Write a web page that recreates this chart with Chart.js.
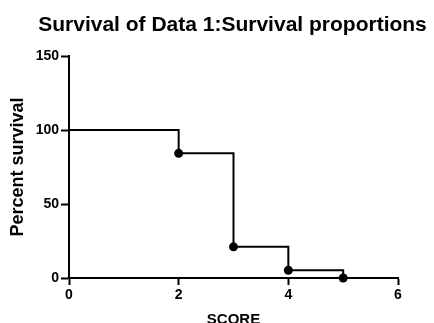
<!DOCTYPE html>
<html>
<head>
<meta charset="utf-8">
<script src="https://cdn.jsdelivr.net/npm/chart.js@4"></script>
<style>
  html, body { margin: 0; padding: 0; background: #fff; }
  #wrap { width: 434px; height: 323px; }
</style>
</head>
<body>
<div id="wrap"><canvas id="survChart" width="434" height="323"></canvas></div>
<script>
'use strict';

// Kaplan-Meier steps
const scores = [0, 2, 3, 4, 5];
const survival = [100, 84.21, 21.05, 5.26, 0];
const markerRadius = [0, 4.5, 4.5, 4.5, 4.5]; // no dot at the starting point
const xTicks = [0, 2, 4, 6];
const yTicks = [0, 50, 100, 150];
const chartTitle = 'Survival of Data 1:Survival proportions';

const FONT = "'Liberation Sans', Arial, sans-serif";

// title is wider than the plot area, so draw it ourselves centred over the plot
const plotTitle = {
    id: 'plotTitle',
    afterDraw(chart) {
        const { ctx, chartArea } = chart;
        ctx.save();
        ctx.font = 'bold 21px ' + FONT;
        ctx.fillStyle = '#000';
        ctx.textAlign = 'center';
        ctx.textBaseline = 'alphabetic';
        ctx.fillText(chartTitle, (chartArea.left + chartArea.right) / 2 - 1, 31);
        ctx.restore();
    }
};

const ctx = document.getElementById('survChart');

new Chart(ctx, {
    type: 'line',
    data: {
        datasets: [{
            label: 'Data 1',
            data: scores.map((s, i) => ({ x: s, y: survival[i] })),
            stepped: 'before',
            borderColor: '#000',
            borderWidth: 2,
            backgroundColor: '#000',
            pointBackgroundColor: '#000',
            pointBorderWidth: 0,
            pointRadius: markerRadius,
            fill: false,
            clip: false
        }]
    },
    options: {
        responsive: false,
        animation: false,
        layout: { padding: { left: 0, right: 36, top: 56, bottom: 0 } },
        scales: {
            x: {
                type: 'linear',
                min: 0,
                max: 6,
                afterBuildTicks: (scale) => { scale.ticks = xTicks.map(v => ({ value: v })); },
                afterFit: (scale) => { scale.height = 45; },
                border: { display: true, color: '#000', width: 2 },
                grid: { drawOnChartArea: false, drawTicks: true, tickLength: 7, tickColor: '#000', tickWidth: 2 },
                ticks: { color: '#000', padding: 2, font: { family: FONT, size: 14, weight: 'bold' } },
                title: {
                    display: true,
                    text: 'SCORE',
                    color: '#000',
                    font: { family: FONT, size: 15, weight: 'bold' },
                    padding: { top: 0, bottom: -6 }
                }
            },
            y: {
                min: 0,
                max: 150,
                afterBuildTicks: (scale) => { scale.ticks = yTicks.map(v => ({ value: v })); },
                afterFit: (scale) => { scale.width = 69; },
                border: { display: true, color: '#000', width: 2 },
                grid: { drawOnChartArea: false, drawTicks: true, tickLength: 8, tickColor: '#000', tickWidth: 2 },
                ticks: { color: '#000', padding: 2, font: { family: FONT, size: 14, weight: 'bold' } },
                title: {
                    display: true,
                    text: 'Percent survival',
                    color: '#000',
                    font: { family: FONT, size: 18, weight: 'bold' },
                    padding: { top: 7, bottom: 0 }
                }
            }
        },
        plugins: {
            legend: { display: false },
            tooltip: { enabled: false },
            title: { display: false }
        }
    },
    plugins: [plotTitle]
});
</script>
</body>
</html>
